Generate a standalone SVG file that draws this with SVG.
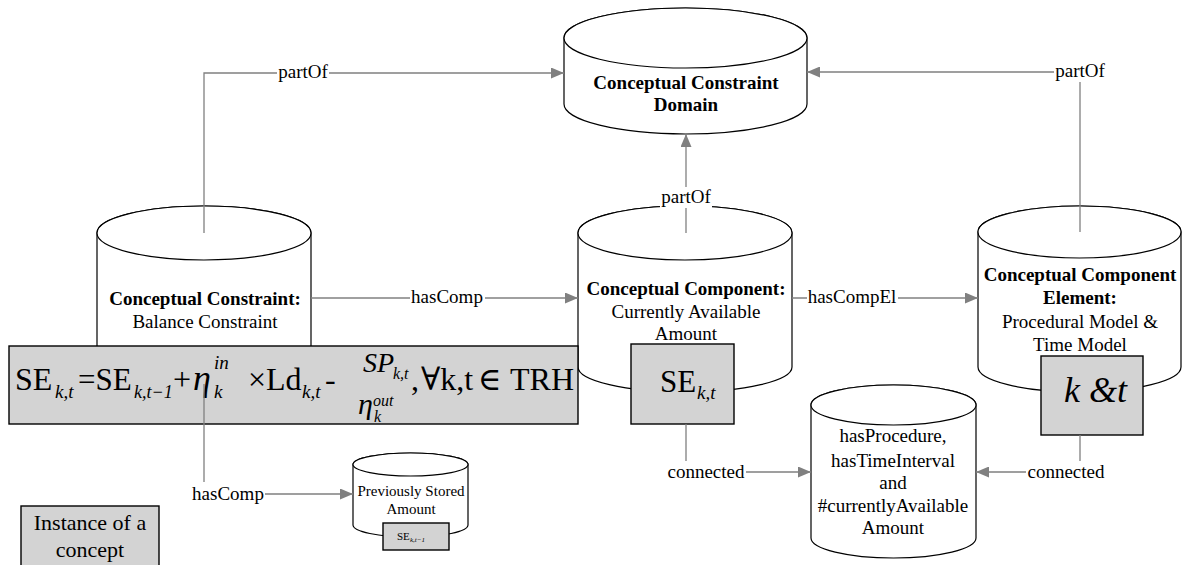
<svg xmlns="http://www.w3.org/2000/svg" width="1183" height="565" viewBox="0 0 1183 565">
<style>
.cyl{fill:#fff;stroke:#000;stroke-width:1.2}
.box{fill:#d3d3d3;stroke:#000;stroke-width:1.4}
.con{fill:none;stroke:#808080;stroke-width:1.3}
.lbl{font-family:"Liberation Serif","DejaVu Serif",serif;font-size:19px;fill:#000;text-anchor:middle}
.bg{fill:#fff}
.t{font-family:"Liberation Serif","DejaVu Serif",serif;fill:#000}
.b{font-weight:bold}
.i{font-style:italic}
.c{text-anchor:middle}
</style>
<defs>
<marker id="arr" markerWidth="13" markerHeight="11" refX="13" refY="5.5" orient="auto" markerUnits="userSpaceOnUse">
<path d="M0,0 L13,5.5 L0,11 Z" fill="#808080"/>
</marker>
</defs>

<g id="domain">
<path class="cyl" d="M564,38 L564,104 A121.5,30 0 0 0 807,104 L807,38 A121.5,30 0 0 0 564,38 Z"/>
<ellipse class="cyl" cx="685.5" cy="38" rx="121.5" ry="30"/>
<text class="t b c" x="686" y="89" font-size="19">Conceptual Constraint</text>
<text class="t b c" x="686" y="111" font-size="19">Domain</text>
</g>

<g id="constraint">
<path class="cyl" d="M97,233 L97,367 A107,27 0 0 0 311,367 L311,233 A107,27 0 0 0 97,233 Z"/>
<ellipse class="cyl" cx="204" cy="233" rx="107" ry="27"/>
<text class="t b c" x="205" y="305" font-size="19">Conceptual Constraint:</text>
<text class="t c" x="205" y="328" font-size="19">Balance Constraint</text>
</g>

<g id="component">
<path class="cyl" d="M578,233 L578,367 A107,25 0 0 0 792,367 L792,233 A107,27 0 0 0 578,233 Z"/>
<ellipse class="cyl" cx="685" cy="233" rx="107" ry="27"/>
<text class="t b c" x="686" y="295" font-size="19">Conceptual Component:</text>
<text class="t c" x="686" y="318" font-size="19">Currently Available</text>
<text class="t c" x="686" y="340" font-size="19">Amount</text>
</g>

<g id="element">
<path class="cyl" d="M978,232 L978,367 A101.5,25 0 0 0 1181,367 L1181,232 A101.5,26 0 0 0 978,232 Z"/>
<ellipse class="cyl" cx="1079.5" cy="232" rx="101.5" ry="26"/>
<text class="t b c" x="1080" y="281" font-size="19">Conceptual Component</text>
<text class="t b c" x="1080" y="304" font-size="19">Element:</text>
<text class="t c" x="1080" y="328" font-size="19">Procedural Model &amp;</text>
<text class="t c" x="1080" y="351" font-size="19">Time Model</text>
</g>

<g id="properties">
<path class="cyl" d="M811,405 L811,538 A82.5,20 0 0 0 976,538 L976,405 A82.5,20 0 0 0 811,405 Z"/>
<ellipse class="cyl" cx="893.5" cy="405" rx="82.5" ry="20"/>
<text class="t c" x="893" y="442" font-size="19">hasProcedure,</text>
<text class="t c" x="893" y="467" font-size="19">hasTimeInterval</text>
<text class="t c" x="893" y="489" font-size="19">and</text>
<text class="t c" x="893" y="512" font-size="19">#currentlyAvailable</text>
<text class="t c" x="893" y="534" font-size="19">Amount</text>
</g>

<g id="previous">
<path class="cyl" d="M353,464.5 L353,525 A57.5,12 0 0 0 468,525 L468,464.5 A57.5,11.5 0 0 0 353,464.5 Z"/>
<ellipse class="cyl" cx="410.5" cy="464.5" rx="57.5" ry="11.5"/>
<text class="t c" x="411" y="496" font-size="15">Previously Stored</text>
<text class="t c" x="411" y="514" font-size="15">Amount</text>
<rect class="box" x="383" y="523" width="66" height="27"/>
<text class="t" x="397" y="540" font-size="11">SE</text>
<text class="t i" x="410" y="542" font-size="7">k,t−1</text>
</g>

<g id="formula">
<rect class="box" x="9" y="346" width="569" height="78"/>
<text class="t" x="15" y="390" font-size="32">SE</text>
<text class="t i" x="55" y="398" font-size="19">k,t</text>
<text class="t" x="78" y="390" font-size="31">=SE</text>
<text class="t i" x="134" y="398" font-size="18">k,t−1</text>
<text class="t" x="173" y="390" font-size="32">+</text>
<text class="t i" x="193" y="390" font-size="36">η</text>
<text class="t i" x="214" y="369" font-size="19">in</text>
<text class="t i" x="214" y="398" font-size="19">k</text>
<text class="t" x="248" y="390" font-size="32">×Ld</text>
<text class="t i" x="302" y="398" font-size="19">k,t</text>
<text class="t" x="325" y="390" font-size="32">-</text>
<text class="t i" x="363" y="372" font-size="28">SP</text>
<text class="t i" x="393" y="379" font-size="16">k,t</text>
<text class="t i" x="358" y="414" font-size="30">η</text>
<text class="t i" x="373" y="406" font-size="16">out</text>
<text class="t i" x="374" y="422" font-size="16">k</text>
<text class="t" x="411" y="390" font-size="32">,</text>
<text class="t" x="421" y="390" font-size="32">∀k,t</text>
<text class="t" x="478" y="390" font-size="32">∈</text>
<text class="t" x="510" y="390" font-size="32">TRH</text>
</g>

<g id="se-instance">
<rect class="box" x="631" y="344" width="103" height="80"/>
<text class="t" x="660" y="392" font-size="31">SE</text>
<text class="t i" x="697" y="399" font-size="19">k,t</text>
</g>

<g id="kt-instance">
<rect class="box" x="1041" y="356" width="102" height="79"/>
<text class="t i" x="1064" y="402" font-size="36">k &amp;t</text>
</g>

<g id="legend">
<rect class="box" x="21" y="506" width="138" height="64"/>
<text class="t c" x="90" y="530" font-size="22">Instance of a</text>
<text class="t c" x="90" y="557" font-size="22">concept</text>
</g>

<g id="connectors">
<path class="con" d="M204,233 L204,73 L564,73" marker-end="url(#arr)"/>
<path class="con" d="M1080,232 L1080,72 L807,72" marker-end="url(#arr)"/>
<path class="con" d="M686,233 L686,134" marker-end="url(#arr)"/>
<path class="con" d="M311,298 L578,298" marker-end="url(#arr)"/>
<path class="con" d="M792,298 L978,298" marker-end="url(#arr)"/>
<path class="con" d="M204,384 L204,494 L353,494" marker-end="url(#arr)"/>
<path class="con" d="M686,424 L686,472 L811,472" marker-end="url(#arr)"/>
<path class="con" d="M1080,435 L1080,472 L976,472" marker-end="url(#arr)"/>

<rect class="bg" x="277" y="62" width="52" height="21"/>
<text class="lbl" x="303" y="78">partOf</text>
<rect class="bg" x="1054" y="61" width="52" height="21"/>
<text class="lbl" x="1080" y="77">partOf</text>
<rect class="bg" x="660" y="187" width="52" height="21"/>
<text class="lbl" x="686" y="203">partOf</text>
<rect class="bg" x="410" y="287" width="75" height="21"/>
<text class="lbl" x="447" y="303">hasComp</text>
<rect class="bg" x="807" y="287" width="91" height="21"/>
<text class="lbl" x="852" y="303">hasCompEl</text>
<rect class="bg" x="191" y="482" width="74" height="21"/>
<text class="lbl" x="228" y="500">hasComp</text>
<rect class="bg" x="666" y="461" width="80" height="21"/>
<text class="lbl" x="706" y="478">connected</text>
<rect class="bg" x="1026" y="461" width="80" height="21"/>
<text class="lbl" x="1066" y="478">connected</text>
</g>
</svg>
